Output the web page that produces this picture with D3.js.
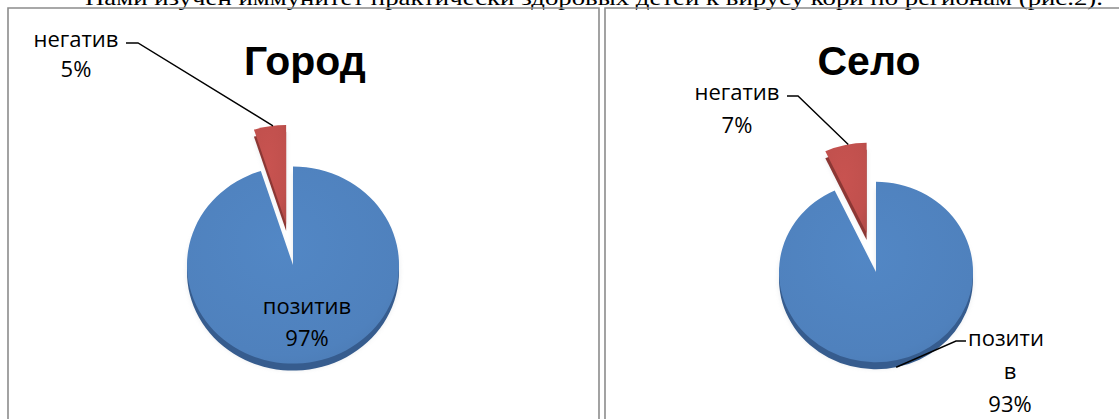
<!DOCTYPE html>
<html>
<head>
<meta charset="utf-8">
<script src="https://cdn.jsdelivr.net/npm/d3@7"></script>
<style>
  html, body { margin: 0; padding: 0; background: #fff; }
  svg { display: block; }
</style>
</head>
<body>
<svg id="chart" width="1119" height="419"></svg>
<script>
// Measles immunity among healthy children, by region
const caption = "Нами изучен иммунитет практически здоровых детей к вирусу кори по регионам (рис.2).";
const titles = ["Город", "Село"];
const categories = ["позитив", "негатив"];
const cityValues = [97, 5];
const villageValues = [93, 7];
const seriesValues = [cityValues, villageValues];
const percentLabels = [["97%", "5%"], ["93%", "7%"]];

const topColors = ["#4F81BD", "#C0504D"];
const sideColors = ["#365C8E", "#8C3734"];

const svg = d3.select("#chart");
const defs = svg.append("defs");

// soft glow around the slices
const f = defs.append("filter").attr("id", "soft").attr("x", "-20%").attr("y", "-20%")
  .attr("width", "140%").attr("height", "140%");
f.append("feGaussianBlur").attr("stdDeviation", 2.5);

topColors.forEach((c, i) => {
  const g = defs.append("radialGradient").attr("id", "face" + i)
    .attr("cx", "45%").attr("cy", "40%").attr("r", "70%");
  g.append("stop").attr("offset", "0%").attr("stop-color", d3.color(c).brighter(0.12));
  g.append("stop").attr("offset", "80%").attr("stop-color", c);
  g.append("stop").attr("offset", "100%").attr("stop-color", d3.color(c).darker(0.15));
});

// caption line of the surrounding text, running above the frames
svg.append("text")
  .attr("x", 85).attr("y", 5)
  .attr("textLength", 1018).attr("lengthAdjust", "spacingAndGlyphs")
  .style("font-family", "'Liberation Serif', 'Times New Roman', serif")
  .style("font-size", "21px")
  .attr("fill", "#000")
  .text(caption);

// panel frames
const panels = [
  { x0: 8, x1: 599, cx: 293, cy: 265, r: 106, explode: 45, titleX: 305,
    neg: { x: 76, y1: 47, y2: 77, lineX0: 126, lineX1: 138 },
    pos: { inside: true, x: 307, y1: 314, y2: 346 } },
  { x0: 605, x1: 1125, cx: 876, cy: 272, r: 97, explode: 43, titleX: 869,
    neg: { x: 737, y1: 100, y2: 133, lineX0: 787, lineX1: 798 },
    pos: { inside: false, x: 1006, y1: 346, y2: 379, y3: 412, lineX: 966 } }
];
const tilt = 0.93;
const depth = 7;

panels.forEach(p => {
  svg.append("path")
    .attr("d", `M${p.x0},430 V8 H${p.x1}` + (p.x1 < 1119 ? " V430" : ""))
    .attr("fill", "none").attr("stroke", "#8c8c8c").attr("stroke-width", 1.6);
});

const labelFont = "'Open Sans', 'Noto Sans', sans-serif";

panels.forEach((p, k) => {
  const values = seriesValues[k];
  const data = categories.map((c, i) => ({ name: c, value: values[i], idx: i }));
  const pie = d3.pie().sort(null).value(d => d.value).startAngle(0).endAngle(2 * Math.PI);
  const arcs = pie(data);
  const arc = d3.arc().innerRadius(0).outerRadius(p.r);

  const offset = a => {
    if (a.data.idx !== 1) return [0, 0];
    const m = (a.startAngle + a.endAngle) / 2;
    return [Math.sin(m) * p.explode, -Math.cos(m) * p.explode];
  };

  const g = svg.append("g").attr("transform", `translate(${p.cx},${p.cy})`);

  // faint halo
  const halo = g.append("g").attr("transform", `scale(1,${tilt})`).attr("filter", "url(#soft)").attr("opacity", 0.25);
  arcs.forEach(a => {
    const [dx, dy] = offset(a);
    halo.append("path").attr("d", arc(a))
      .attr("transform", `translate(${dx},${dy + depth})`)
      .attr("fill", "#9aa3ad");
  });

  // side (depth) of each slice
  const side = g.append("g").attr("transform", `translate(0,${depth}) scale(1,${tilt})`);
  arcs.forEach(a => {
    const [dx, dy] = offset(a);
    side.append("path").attr("d", arc(a))
      .attr("transform", `translate(${dx},${dy})`)
      .attr("fill", sideColors[a.data.idx]);
  });

  // top faces
  const top = g.append("g").attr("transform", `scale(1,${tilt})`);
  arcs.forEach(a => {
    const [dx, dy] = offset(a);
    top.append("path").attr("d", arc(a))
      .attr("transform", `translate(${dx},${dy})`)
      .attr("fill", `url(#face${a.data.idx})`);
  });

  // title
  svg.append("text")
    .attr("x", p.titleX).attr("y", 75)
    .attr("text-anchor", "middle")
    .style("font-family", "'Liberation Sans', Arial, sans-serif")
    .style("font-weight", "bold").style("font-size", "41px")
    .text(titles[k]);

  const lbl = (x, y, t) => svg.append("text")
    .attr("x", x).attr("y", y).attr("text-anchor", "middle")
    .style("font-family", labelFont).style("font-size", "22px")
    .attr("fill", "#000").text(t);

  // negative slice: label with leader to the exploded slice
  const negArc = arcs[1];
  const [ndx, ndy] = offset(negArc);
  const nm = (negArc.startAngle + negArc.endAngle) / 2 + 0.03;
  const nx = p.cx + ndx + Math.sin(nm) * p.r;
  const ny = p.cy + (ndy - Math.cos(nm) * p.r) * tilt;
  svg.append("path")
    .attr("d", `M${p.neg.lineX0},${p.neg.y1 - 4} H${p.neg.lineX1} L${nx},${ny}`)
    .attr("fill", "none").attr("stroke", "#000").attr("stroke-width", 1.4);
  lbl(p.neg.x, p.neg.y1, categories[1]);
  lbl(p.neg.x, p.neg.y2, percentLabels[k][1]);

  // positive slice label
  if (p.pos.inside) {
    lbl(p.pos.x, p.pos.y1, categories[0]);
    lbl(p.pos.x, p.pos.y2, percentLabels[k][0]);
  } else {
    const pa = Math.PI * (168 / 180);
    const px = p.cx + Math.sin(pa) * p.r;
    const py = p.cy - Math.cos(pa) * p.r * tilt + depth;
    svg.append("path")
      .attr("d", `M${px},${py} L${p.pos.lineX - 10},${p.pos.y1 - 5} H${p.pos.lineX}`)
      .attr("fill", "none").attr("stroke", "#000").attr("stroke-width", 1.4);
    // the category name wraps inside the narrow label box
    const name = categories[0];
    lbl(p.pos.x, p.pos.y1, name.slice(0, 6));
    lbl(p.pos.x + 4, p.pos.y2, name.slice(6));
    lbl(p.pos.x + 4, p.pos.y3, percentLabels[k][0]);
  }
});
</script>
</body>
</html>
